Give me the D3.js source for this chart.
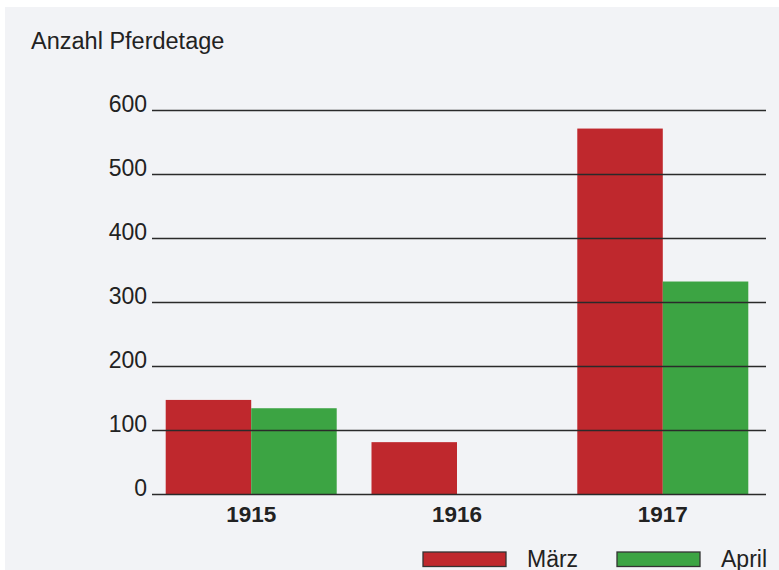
<!DOCTYPE html>
<html>
<head>
<meta charset="utf-8">
<script src="https://cdn.jsdelivr.net/npm/d3@7"></script>
<style>
  html, body { margin: 0; padding: 0; background: #ffffff; }
  svg { display: block; font-family: "Liberation Sans", Arial, Helvetica, sans-serif; }
</style>
</head>
<body>
<svg id="chart" width="779" height="570"></svg>
<script>
// Pferdetage je Jahr, getrennt nach Monat
const years = ["1915", "1916", "1917"];
const months = ["März", "April"];
const maerz = [147, 81, 571];
const april = [134, null, 332];
const yTicks = [0, 100, 200, 300, 400, 500, 600];
const colors = ["#bf282d", "#3ca443"];
const yTitle = "Anzahl Pferdetage";

const svg = d3.select("#chart");
const ink = "#222222";

// Papierton
svg.append("rect")
  .attr("x", 5).attr("y", 7)
  .attr("width", 774).attr("height", 563)
  .attr("fill", "#f2f3f6");

const gridLeft = 152, gridRight = 766;

const y = d3.scaleLinear().domain([0, 600]).range([494, 110]);

const x0 = d3.scaleBand()
  .domain(years)
  .range([gridLeft, 762])
  .paddingInner(0.169)
  .paddingOuter(0.0666);

const x1 = d3.scaleBand()
  .domain(months)
  .range([0, x0.bandwidth()])
  .padding(0);

const color = d3.scaleOrdinal().domain(months).range(colors);

const rows = years.map((yr, i) => ({
  year: yr,
  values: [
    { month: months[0], value: maerz[i] },
    { month: months[1], value: april[i] }
  ].filter(d => d.value != null)
}));

// Balken
const groups = svg.append("g")
  .selectAll("g")
  .data(rows)
  .join("g")
  .attr("transform", d => `translate(${x0(d.year)},0)`);

groups.selectAll("rect")
  .data(d => d.values)
  .join("rect")
  .attr("x", d => x1(d.month))
  .attr("y", d => y(d.value))
  .attr("width", x1.bandwidth())
  .attr("height", d => y(0) - y(d.value))
  .attr("fill", d => color(d.month));

// Gitterlinien und Werte der y-Achse (über den Balken)
const yAxis = svg.append("g")
  .attr("transform", `translate(${gridLeft},0)`)
  .call(d3.axisLeft(y)
    .tickValues(yTicks)
    .tickSizeInner(-(gridRight - gridLeft))
    .tickSizeOuter(0)
    .tickPadding(5)
    .tickFormat(d3.format("d")));

yAxis.select(".domain").remove();
yAxis.selectAll(".tick line")
  .attr("stroke", "#2a2a2a")
  .attr("stroke-width", 1.5);
yAxis.selectAll(".tick text")
  .attr("x", -5)
  .attr("dy", "0.05em")
  .attr("fill", ink)
  .style("font-size", "23px")
  .style("font-family", "'Liberation Sans', Arial, sans-serif");

// Jahresbeschriftung
const xAxis = svg.append("g")
  .attr("transform", `translate(0,${y(0)})`)
  .call(d3.axisBottom(x0).tickSize(0));

xAxis.select(".domain").remove();
xAxis.selectAll(".tick text")
  .attr("y", 28)
  .attr("dy", 0)
  .attr("fill", ink)
  .style("font-size", "22.5px")
  .style("font-weight", "bold")
  .style("font-family", "'Liberation Sans', Arial, sans-serif");

// Achsentitel
svg.append("text")
  .attr("x", 31)
  .attr("y", 49)
  .attr("fill", ink)
  .style("font-size", "23.5px")
  .text(yTitle);

// Legende
const legendPos = [423, 617];
const legend = svg.append("g")
  .selectAll("g")
  .data(months)
  .join("g")
  .attr("transform", (d, i) => `translate(${legendPos[i]},552)`);

legend.append("rect")
  .attr("width", 83)
  .attr("height", 14.5)
  .attr("fill", d => color(d))
  .attr("stroke", "#333")
  .attr("stroke-width", 1.3);

legend.append("text")
  .attr("x", 104)
  .attr("y", 14.5)
  .attr("fill", ink)
  .style("font-size", "23px")
  .text(d => d);
</script>
</body>
</html>
